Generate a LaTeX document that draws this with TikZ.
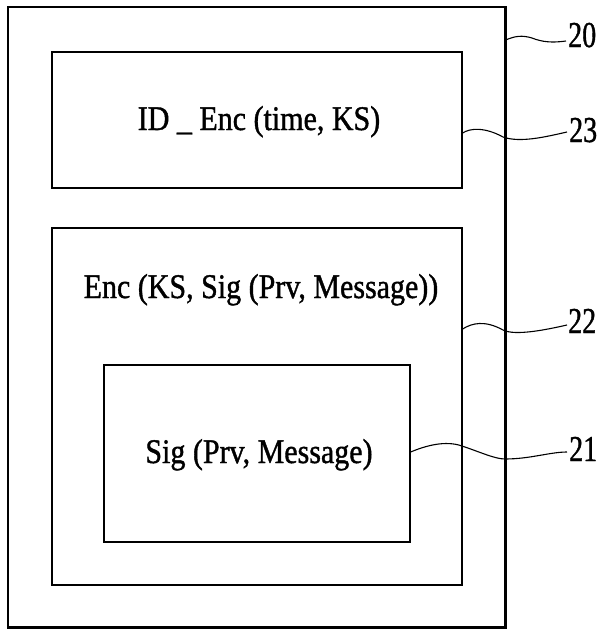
\documentclass[tikz,border=0pt]{standalone}
\usepackage{fontspec}
\setmainfont{Liberation Serif}
\newfontfamily\heavyserif[FakeBold=1.2]{Liberation Serif}
\newcommand{\tallcap}[2]{\scalebox{1}[#1]{#2}}
\begin{document}
\begin{tikzpicture}[x=1pt,y=-1pt,
  box/.style={draw, line width=1.3pt, inner sep=0pt},
  txt/.style={font=\heavyserif\fontsize{30}{32}\selectfont, inner sep=0pt, anchor=base},
  lbl/.style={font=\heavyserif\fontsize{28}{30}\selectfont, inner sep=0pt, anchor=base west},
  lead/.style={line width=1.1pt}]
\useasboundingbox (0,0) rectangle (603,630);
% outer frame 20, heavier on the right and bottom
\node[box, minimum width=497pt, minimum height=620pt] (b20) at (256.5,317) {};
\draw[line width=3pt] (b20.north east) -- (b20.south east) -- (b20.south west);
% inner frames
\node[box, minimum width=410pt, minimum height=136pt] (b23) at (257,120) {};
\node[box, minimum width=410pt, minimum height=357pt] (b22) at (257,406.5) {};
\node[box, minimum width=306pt, minimum height=177pt] (b21) at (257,453.5) {};
% captions
\node[txt] (t23) at (259,130) {\tallcap{1.15}{ID \_ Enc (time, KS)}};
\node[txt] (t22) at (261,298) {\tallcap{1.15}{Enc (KS, Sig (Prv, Message))}};
\node[txt] (t21) at (259,463) {\tallcap{1.15}{Sig (Prv, Message)}};
% reference numerals
\node[lbl] (l20) at (568,47) {\tallcap{1.3}{20}};
\node[lbl] (l23) at (569,142) {\tallcap{1.3}{23}};
\node[lbl] (l22) at (568,333) {\tallcap{1.3}{22}};
\node[lbl] (l21) at (569,461) {\tallcap{1.3}{21}};
% leader lines
\coordinate (s20) at (b20.east |- 0,40);
\coordinate (s23) at (b23.east |- 0,133);
\coordinate (s22) at (b22.east |- 0,329);
\coordinate (s21) at (b21.east |- 0,452);
\coordinate (e20) at (566,41);
\coordinate (e23) at (567,132);
\coordinate (e22) at (567,325);
\coordinate (e21) at (567,452);
\draw[lead] (s20) .. controls (515,36) and (522,35) .. (532,38)
  .. controls (542,42) and (552,43) .. (e20);
\draw[lead] (s23) .. controls (470,128) and (485,127) .. (503,137)
  .. controls (520,143) and (545,137) .. (e23);
\draw[lead] (s22) .. controls (472,323) and (485,320) .. (503,330)
  .. controls (515,336) and (545,330) .. (e22);
\draw[lead] (s21) .. controls (425,446) and (445,440) .. (462,446)
  .. controls (480,452) and (495,459) .. (505,459)
  .. controls (530,459) and (550,452) .. (e21);
\end{tikzpicture}
\end{document}
